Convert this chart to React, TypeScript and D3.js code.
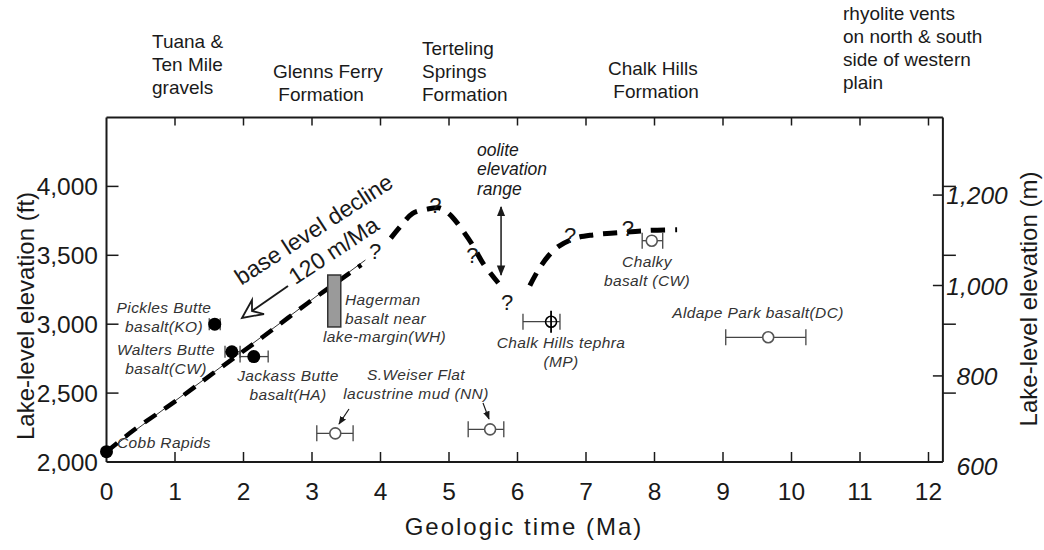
import React from 'react'
import * as d3 from 'd3'

const width = 1044
const height = 550
const FT_PER_M = 3.28084

// axes
const ageTicks = [0, 1, 2, 3, 4, 5, 6, 7, 8, 9, 10, 11, 12]
const ftTicks = [2000, 2500, 3000, 3500, 4000]
const mTicks = [600, 800, 1000, 1200]

// formations along the top
const formationLines = [
  ['Tuana &', 'Ten Mile', 'gravels'],
  ['Glenns Ferry', ' Formation'],
  ['Terteling', 'Springs', 'Formation'],
  ['Chalk Hills', ' Formation'],
  ['rhyolite vents', 'on north & south', 'side of western', 'plain'],
]

// dated samples, filled = basalt on lake shore
const filledName = ['Cobb Rapids', 'Pickles Butte basalt(KO)', 'Walters Butte basalt(CW)', 'Jackass Butte basalt(HA)']
const filledAge = [0, 1.58, 1.83, 2.15]
const filledAgeMin = [null, 1.5, 1.73, 1.95]
const filledAgeMax = [null, 1.66, 1.95, 2.36]
const filledElev = [2075, 3000, 2800, 2765]

// open = deposits below lake level
const openName = ['S.Weiser Flat a', 'S.Weiser Flat b', 'Chalk Hills tephra (MP)', 'Chalky basalt (CW)', 'Aldape Park basalt(DC)']
const openAge = [3.34, 5.6, 6.49, 7.96, 9.66]
const openAgeMin = [3.07, 5.28, 6.08, 7.82, 9.04]
const openAgeMax = [3.6, 5.8, 6.62, 8.12, 10.21]
const openElev = [2208, 2237, 3018, 3606, 2905]

// Hagerman basalt box
const hagermanAge = [3.23, 3.42]
const hagermanElev = [2980, 3357]

// lake level history
const declineAge = [0, 0.4, 1.03, 1.66, 2.28, 2.94, 3.59, 3.72]
const declineElev = [2075, 2232, 2450, 2682, 2907, 3154, 3385, 3430]
const thinAge = [0, 3.78]
const thinElev = [2075, 3466]
const peakAge = [4.15, 4.3, 4.47, 4.68, 4.85, 4.95, 5.06, 5.2, 5.35, 5.5, 5.72]
const peakElev = [3625, 3715, 3805, 3835, 3845, 3820, 3771, 3680, 3570, 3440, 3299]
const riseAge = [6.18, 6.3, 6.45, 6.6, 6.85, 7.1, 7.5, 7.9, 8.33]
const riseElev = [3280, 3390, 3495, 3565, 3625, 3648, 3665, 3680, 3685]
const queryAge = [3.92, 4.8, 5.34, 5.85, 6.77, 7.61]
const queryElev = [3524, 3865, 3502, 3161, 3647, 3698]
const ooliteElev = [3343, 3865]
const ooliteAge = 5.76

const font = '"Liberation Sans", Arial, Helvetica, sans-serif'
const ink = '#1a1a1a'
const grey = '#444'

const x = d3.scaleLinear().domain([0, 12]).range([106.5, 928.5])
const y = d3.scaleLinear().domain([2000, 4500]).range([462, 117.5])
const yM = (v: number) => y(v * FT_PER_M)
const plotRight = x(12.21)

const lineGen = d3.line<[number, number]>()
  .x(d => x(d[0]))
  .y(d => y(d[1]))
  .curve(d3.curveCatmullRom)

const zip = (a: number[], b: number[]) => a.map((v, i) => [v, b[i]] as [number, number])

// label layout (px)
const formationPos = [[152, 48], [273, 78], [422, 55], [608, 75], [843, 20]]
const sampleLabels = [
  { lines: ['Cobb Rapids'], x: 117, y: 448, anchor: 'start' },
  { lines: ['Pickles Butte', 'basalt(KO)'], x: 164, y: 313, anchor: 'middle' },
  { lines: ['Walters Butte', 'basalt(CW)'], x: 166, y: 355, anchor: 'middle' },
  { lines: ['Jackass Butte', 'basalt(HA)'], x: 288, y: 381, anchor: 'middle' },
  { lines: ['Hagerman', 'basalt near'], x: 345, y: 305, anchor: 'start' },
  { lines: ['lake-margin(WH)'], x: 323, y: 342, anchor: 'start' },
  { lines: ['S.Weiser Flat', 'lacustrine mud (NN)'], x: 416, y: 380, anchor: 'middle' },
  { lines: ['Chalk Hills tephra', '(MP)'], x: 561, y: 348, anchor: 'middle' },
  { lines: ['Chalky', 'basalt (CW)'], x: 647, y: 267, anchor: 'middle' },
  { lines: ['Aldape Park basalt(DC)'], x: 758, y: 318, anchor: 'middle' },
]

export default function App() {
  const dash = { fill: 'none', stroke: '#000', strokeWidth: 5, strokeDasharray: '14 10' }
  return (
    <svg width={width} height={height} style={{ position: 'absolute', left: 0, top: 0, background: '#fff' }}
      fontFamily={font}>
      <defs>
        <marker id="head" viewBox="0 0 10 10" refX="9" refY="5" markerWidth="7" markerHeight="7" orient="auto-start-reverse">
          <path d="M0,1 L10,5 L0,9 z" fill={ink} />
        </marker>
      </defs>

      {/* frame */}
      <g stroke={ink} strokeWidth={2} fill="none">
        <line x1={x(0)} x2={x(0)} y1={y(4500)} y2={y(2000)} />
        <line x1={plotRight} x2={plotRight} y1={y(4500)} y2={y(2000)} />
        <line x1={x(0)} x2={plotRight} y1={y(2000)} y2={y(2000)} />
        <line x1={x(0)} x2={plotRight} y1={y(4500)} y2={y(4500)} />
        {ageTicks.slice(1).map(t => (
          <g key={t}>
            <line x1={x(t)} x2={x(t)} y1={y(2000)} y2={y(2000) - 10} strokeWidth={1.5} />
            <line x1={x(t)} x2={x(t)} y1={y(4500)} y2={y(4500) + 8} strokeWidth={1.5} />
          </g>
        ))}
        {ftTicks.slice(1).map(v => (
          <g key={v}>
            <line x1={x(0)} x2={x(0) + 12} y1={y(v)} y2={y(v)} strokeWidth={1.5} />
            <line x1={plotRight} x2={plotRight + 13} y1={y(v)} y2={y(v)} strokeWidth={1.5} />
          </g>
        ))}
        {mTicks.slice(1).map(v => (
          <line key={v} x1={plotRight - 10} x2={plotRight} y1={yM(v)} y2={yM(v)} strokeWidth={1.5} />
        ))}
      </g>

      {/* tick labels */}
      <g fill={ink} fontSize={24.5}>
        {ageTicks.map(t => (
          <text key={t} x={x(t)} y={500} textAnchor="middle">{t}</text>
        ))}
        {ftTicks.map(v => (
          <text key={v} x={98} y={y(v) + 9} textAnchor="end">{d3.format(',')(v)}</text>
        ))}
        {mTicks.map(v => (
          <text key={v} x={977} y={yM(v) + 9} textAnchor="middle" fontStyle="italic">{d3.format(',')(v)}</text>
        ))}
      </g>

      {/* axis titles */}
      <g fill={ink} fontSize={24}>
        <text x={524} y={535} textAnchor="middle" letterSpacing={2}>Geologic time (Ma)</text>
        <text transform={`translate(34,316) rotate(-90)`} textAnchor="middle">Lake-level elevation (ft)</text>
        <text transform={`translate(1037,299) rotate(-90)`} textAnchor="middle">Lake-level elevation (m)</text>
      </g>

      {/* formations */}
      <g fill={ink} fontSize={19}>
        {formationLines.map((lines, i) => (
          <text key={i} x={formationPos[i][0]} y={formationPos[i][1]}>
            {lines.map((l, j) => (
              <tspan key={j} x={formationPos[i][0]} dy={j === 0 ? 0 : 23} style={{ whiteSpace: 'pre' }}>{l}</tspan>
            ))}
          </text>
        ))}
      </g>

      {/* lake level */}
      <path d={lineGen(zip(thinAge, thinElev)) || ''} fill="none" stroke="#000" strokeWidth={0.8} />
      <path d={lineGen(zip(declineAge, declineElev)) || ''} {...dash} strokeWidth={4.5} />
      <path d={lineGen(zip(peakAge, peakElev)) || ''} {...dash} />
      <path d={lineGen(zip(riseAge, riseElev)) || ''} {...dash} />
      <g fill={ink} fontSize={22} textAnchor="middle" dominantBaseline="central">
        {queryAge.map((a, i) => (
          <text key={i} x={x(a)} y={y(queryElev[i])}>?</text>
        ))}
      </g>

      {/* oolite range */}
      <line x1={x(ooliteAge)} x2={x(ooliteAge)} y1={y(ooliteElev[0]) - 2} y2={y(ooliteElev[1]) + 2}
        stroke={ink} strokeWidth={1.5} markerStart="url(#head)" markerEnd="url(#head)" />
      <g fill={ink} fontSize={17.5} fontStyle="italic">
        <text x={477} y={156}>oolite</text>
        <text x={477} y={175}>elevation</text>
        <text x={477} y={195}>range</text>
      </g>

      {/* base level decline */}
      <g fill={ink} fontSize={23}>
        <text transform="translate(318,236) rotate(-33)" textAnchor="middle">base level decline</text>
        <text transform="translate(338,257) rotate(-33.5)" textAnchor="middle">120 m/Ma</text>
      </g>
      <line x1={288} y1={286} x2={252} y2={311} stroke={ink} strokeWidth={2} />
      <path d="M242,318 L252,300 L252,311 L264,314 Z" fill="#fff" stroke={ink} strokeWidth={1.8} strokeLinejoin="miter" />

      {/* Hagerman box */}
      <rect x={x(hagermanAge[0])} y={y(hagermanElev[1])} width={x(hagermanAge[1]) - x(hagermanAge[0])}
        height={y(hagermanElev[0]) - y(hagermanElev[1])} fill="#9a9a9a" stroke="#333" strokeWidth={1.5} />

      {/* error bars */}
      <g stroke={grey} strokeWidth={1.3}>
        {filledAge.map((a, i) => filledAgeMin[i] == null ? null : (
          <g key={i}>
            <line x1={x(filledAgeMin[i] as number)} x2={x(filledAgeMax[i] as number)} y1={y(filledElev[i])} y2={y(filledElev[i])} />
            <line x1={x(filledAgeMin[i] as number)} x2={x(filledAgeMin[i] as number)} y1={y(filledElev[i]) - 6} y2={y(filledElev[i]) + 6} />
            <line x1={x(filledAgeMax[i] as number)} x2={x(filledAgeMax[i] as number)} y1={y(filledElev[i]) - 6} y2={y(filledElev[i]) + 6} />
          </g>
        ))}
        {openAge.map((a, i) => (
          <g key={i}>
            <line x1={x(openAgeMin[i])} x2={x(openAgeMax[i])} y1={y(openElev[i])} y2={y(openElev[i])} />
            <line x1={x(openAgeMin[i])} x2={x(openAgeMin[i])} y1={y(openElev[i]) - 8} y2={y(openElev[i]) + 8} />
            <line x1={x(openAgeMax[i])} x2={x(openAgeMax[i])} y1={y(openElev[i]) - 8} y2={y(openElev[i]) + 8} />
          </g>
        ))}
      </g>
      {/* tephra marker */}
      <line x1={x(openAge[2])} x2={x(openAge[2])} y1={y(openElev[2]) - 11} y2={y(openElev[2]) + 11} stroke="#000" strokeWidth={1.8} />
      {openAge.map((a, i) => (
        <circle key={openName[i]} cx={x(a)} cy={y(openElev[i])} r={5.5} fill="#fff"
          stroke={i === 2 ? '#000' : '#555'} strokeWidth={1.6} fillOpacity={i === 2 ? 0 : 1} />
      ))}
      {filledAge.map((a, i) => (
        <circle key={filledName[i]} cx={x(a)} cy={y(filledElev[i])} r={6.5} fill="#000" />
      ))}

      {/* mud pointers */}
      <g stroke={ink} strokeWidth={1.2}>
        <line x1={349} y1={409} x2={339} y2={424} markerEnd="url(#head)" />
        <line x1={483} y1={403} x2={489} y2={419} markerEnd="url(#head)" />
      </g>

      {/* sample labels */}
      <g fill="#333" fontSize={15.5} fontStyle="italic" letterSpacing={0.4}>
        {sampleLabels.map((s, i) => (
          <text key={i} x={s.x} y={s.y} textAnchor={s.anchor}>
            {s.lines.map((l, j) => (
              <tspan key={j} x={s.x} dy={j === 0 ? 0 : 18.5}>{l}</tspan>
            ))}
          </text>
        ))}
      </g>
    </svg>
  )
}
